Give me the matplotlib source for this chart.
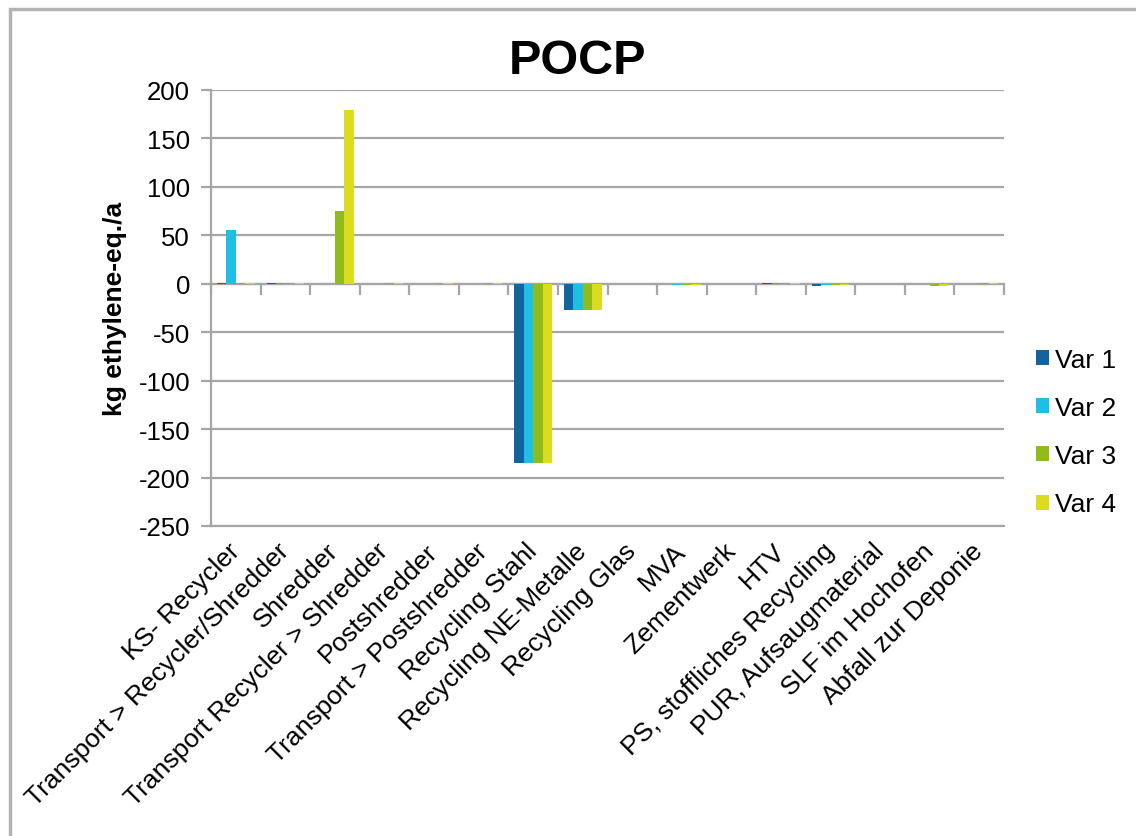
import matplotlib
matplotlib.use("Agg")
import matplotlib.pyplot as plt
from matplotlib.patches import Rectangle
import numpy as np

plt.rcParams['font.family'] = ['Liberation Sans', 'DejaVu Sans']

categories = [
    "KS- Recycler", "Transport > Recycler/Shredder", "Shredder",
    "Transport Recycler > Shredder", "Postshredder", "Transport > Postshredder",
    "Recycling Stahl", "Recycling NE-Metalle", "Recycling Glas", "MVA",
    "Zementwerk", "HTV", "PS, stoffliches Recycling", "PUR, Aufsaugmaterial",
    "SLF im Hochofen", "Abfall zur Deponie",
]
series_names = ["Var 1", "Var 2", "Var 3", "Var 4"]
var1 = [1, 1, 0, 0, 0, 0, -185, -27, 0, 0, 0, 1, -2, 0, 0, 0]
var2 = [56, 1, 0, 0, 0, 0, -185, -27, 0, -1, 0, 1, -1, 0, 0, 0]
var3 = [1, 0.5, 75, 0.5, 0.5, 0.5, -185, -27, 0, -1, 0, 0.5, -1, 0, -2, 1]
var4 = [1, 0.5, 179, 0.5, 0.5, 0.5, -185, -27, 0, -1, 0, 0.5, -1, 0, -2, 1]
colors = ["#13639f", "#1dbfe6", "#8fbc1b", "#dcdc1f"]
yticks = [200, 150, 100, 50, 0, -50, -100, -150, -200, -250]

grid_c = "#a6a6a6"
fs = 18.5

fig = plt.figure(figsize=(11.36, 8.37), dpi=100)
ax = fig.add_axes([211/1136, 1 - 527/837, (1004 - 211)/1136, (527 - 91)/837])

x = np.arange(len(categories))
w = 0.19
for i, (vals, name) in enumerate(zip([var1, var2, var3, var4], series_names)):
    ax.bar(x + (i - 1.5) * w, vals, width=w, color=colors[i], label=name, zorder=3)

ax.set_xlim(-0.5, len(categories) - 0.5)
ax.set_ylim(min(yticks), max(yticks))
ax.set_yticks(yticks)
ax.set_yticklabels([str(t) for t in yticks], fontsize=fs)
ax.yaxis.grid(True, color=grid_c, lw=1.6, zorder=0)

for s in ["top", "right"]:
    ax.spines[s].set_visible(False)
for s in ["left", "bottom"]:
    ax.spines[s].set_color(grid_c)
    ax.spines[s].set_linewidth(1.6)
ax.tick_params(axis="y", length=7, width=1.6, color=grid_c, pad=8)

ax.set_xticks(x)
ax.set_xticklabels(categories, fontsize=19, rotation=45, ha="right",
                   va="center", rotation_mode="anchor")
ax.tick_params(axis="x", length=0, pad=15)

# zero line with category separators
zero_pos = (0 - min(yticks)) / (max(yticks) - min(yticks))
zax = ax.secondary_xaxis(zero_pos)
zax.set_alignment("bottom")
zax.set_xticks(np.arange(len(categories) + 1) - 0.5)
zax.set_xticklabels([])
zax.spines["bottom"].set_color(grid_c)
zax.spines["bottom"].set_linewidth(1.6)
zax.tick_params(axis="x", direction="out", length=8, width=1.6, color=grid_c)

ax.set_ylabel("kg ethylene-eq./a", fontsize=19, fontweight="bold", labelpad=8)

fig.text(577/1136, 1 - 62/837, "POCP", fontsize=35, fontweight="bold",
         ha="center", va="center")

fig.legend(loc="upper left", bbox_to_anchor=(1025/1136, 1 - 338/837),
           frameon=False, fontsize=19, handlelength=0.5, handleheight=0.5,
           handletextpad=0.25, labelspacing=0.92, borderaxespad=0)

fig.add_artist(Rectangle((10/1136, -0.1), 1.2, 1.1 - 10/837,
                         transform=fig.transFigure, fill=False,
                         edgecolor="#b3b3b3", lw=2.5))

fig.savefig("out.png", dpi=100)
